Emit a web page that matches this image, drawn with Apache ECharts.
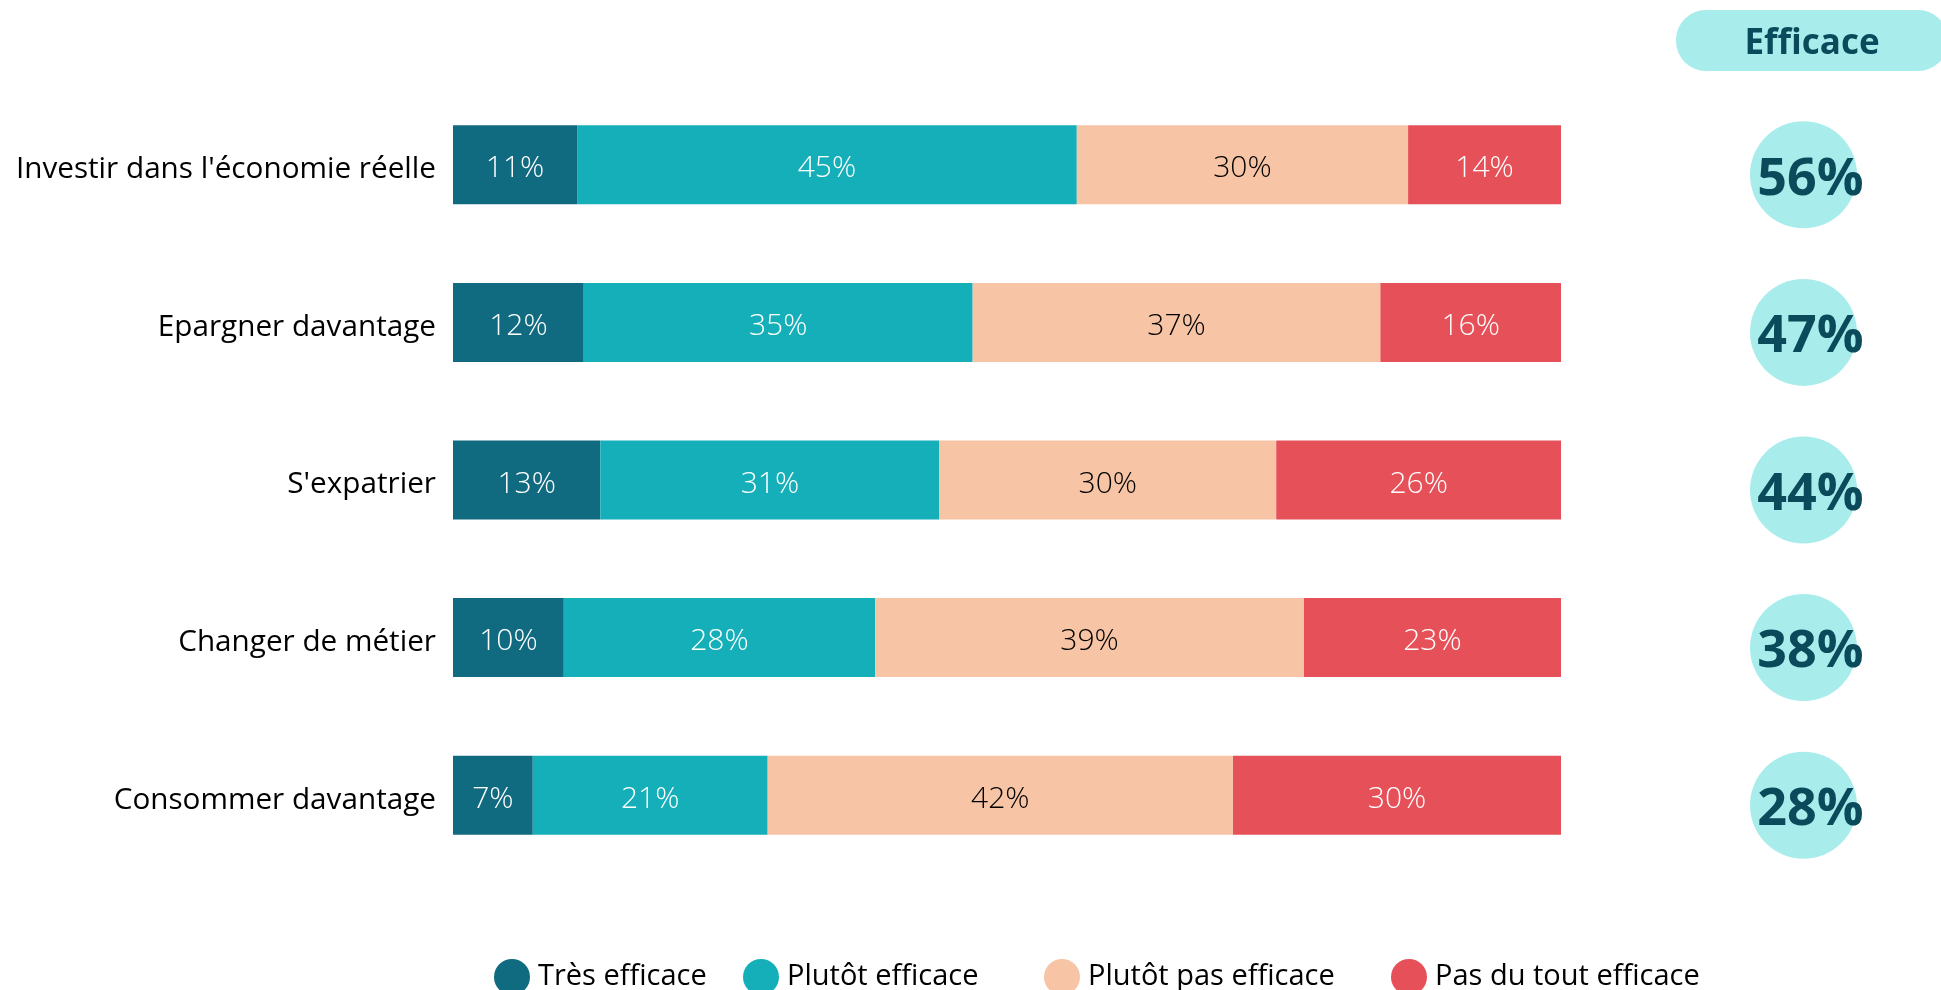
<!DOCTYPE html>
<html><head><meta charset="utf-8">
<script src="https://cdn.jsdelivr.net/npm/echarts@6/dist/echarts.min.js"></script>
<style>html,body{margin:0;padding:0;background:#fff}#c{width:1941px;height:990px}</style>
</head><body><div id="c"></div>
<script>
const categories = ["Investir dans l'économie réelle", "Epargner davantage", "S'expatrier", "Changer de métier", "Consommer davantage"];
const seriesNames = ["Très efficace", "Plutôt efficace", "Plutôt pas efficace", "Pas du tout efficace"];
const tresEfficace = [11.2, 11.8, 13.3, 10.0, 7.2];
const plutotEfficace = [45.1, 35.1, 30.6, 28.1, 21.2];
const plutotPasEfficace = [29.9, 36.8, 30.4, 38.7, 42.0];
const pasDuTout = [13.8, 16.3, 25.7, 23.2, 29.6];
const efficaceTotal = [56, 47, 44, 38, 28];
const headerLabel = "Efficace";

const colors = ['#106b80', '#14afb8', '#f7c4a5', '#e65058'];
const labelColors = ['#ffffff', '#ffffff', '#000000', '#ffffff'];
const values = [tresEfficace, plutotEfficace, plutotPasEfficace, pasDuTout];
const FONT = "'Open Sans', 'Noto Sans', sans-serif";

const chart = echarts.init(document.getElementById('c'), null, {renderer: 'canvas'});
const gridTop = 86, gridBottom = 990 - 874;

const barSeries = seriesNames.map((n, i) => ({
  name: n, type: 'bar', stack: 'total', xAxisIndex: 0, yAxisIndex: 0,
  barWidth: 79, data: values[i],
  itemStyle: {color: colors[i]},
  emphasis: {disabled: true},
  label: {show: true, position: 'inside', offset: [0, 4], formatter: p => Math.round(p.value) + '%', color: labelColors[i],
    fontFamily: FONT, fontSize: 30, fontWeight: 300}
}));

const legendLefts = [489, 738, 1039, 1386];
const legends = seriesNames.map((n, i) => ({
  data: [n], left: legendLefts[i], top: 954, icon: 'circle', itemWidth: 36, itemHeight: 36, itemGap: 8,
  textStyle: {fontFamily: FONT, fontSize: 29, color: '#000', padding: [0, 0, 0, 3]}, selectedMode: false
}));

chart.setOption({
  animation: false,
  grid: [
    {left: 453, right: 380, top: gridTop, bottom: gridBottom},
    {left: 1750, width: 107, top: gridTop, bottom: gridBottom}
  ],
  xAxis: [
    {type: 'value', min: 0, max: 100, show: false, gridIndex: 0},
    {type: 'value', min: 0, max: 1, show: false, gridIndex: 1}
  ],
  yAxis: [
    {type: 'category', data: categories, inverse: true, gridIndex: 0,
      axisLine: {show: false}, axisTick: {show: false}, splitLine: {show: false},
      axisLabel: {color: '#000', margin: 17,
        formatter: v => '{a|' + v + '}',
        rich: {a: {fontFamily: FONT, fontSize: 29.7, color: '#000', padding: [10, 0, 0, 0]}}}},
    {type: 'category', data: categories, inverse: true, gridIndex: 1, show: false}
  ],
  legend: legends,
  graphic: [{
    type: 'group', left: 1676, top: 10,
    children: [
      {type: 'rect', shape: {x: 0, y: 0, width: 272, height: 61, r: 30}, style: {fill: '#a8ecec'}},
      {type: 'text', x: 136, y: 34, style: {text: headerLabel, fill: '#0b4a5a', font: "bold 35px 'Open Sans', 'Noto Sans', sans-serif", align: 'center', verticalAlign: 'middle'}}
    ]
  }],
  series: barSeries.concat([{
    name: 'Efficace', type: 'scatter', xAxisIndex: 1, yAxisIndex: 1,
    symbol: 'circle', symbolSize: 107, symbolOffset: [0, 10],
    data: efficaceTotal.map((v, i) => [0.5, categories[i], v]),
    itemStyle: {color: '#a8ecec', opacity: 1},
    emphasis: {disabled: true},
    label: {show: true, position: 'inside', offset: [7, 5], formatter: p => p.data[2] + '%',
      color: '#0b4a5a', fontFamily: FONT, fontSize: 52, fontWeight: 'bold'}
  }])
});
</script></body></html>
